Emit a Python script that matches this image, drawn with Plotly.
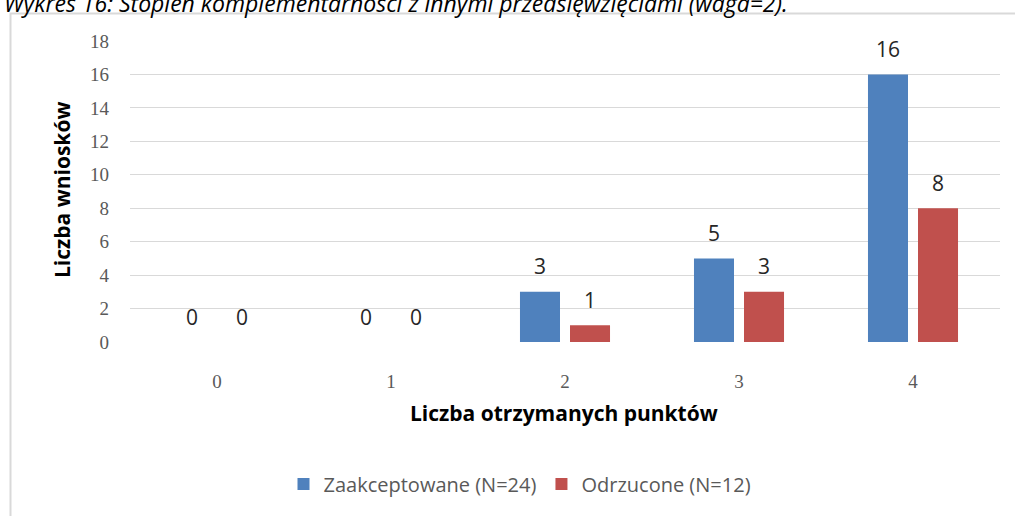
import plotly.graph_objects as go

categories = ["0", "1", "2", "3", "4"]
accepted = [0, 0, 3, 5, 16]
rejected = [0, 0, 1, 3, 8]
accepted_name = "Zaakceptowane (N=24)"
rejected_name = "Odrzucone (N=12)"
y_ticks = [0, 2, 4, 6, 8, 10, 12, 14, 16, 18]

W, H = 1015, 516
L, R, T, B = 130, 15, 41, 174
pw, ph = W - L - R, H - T - B

def px_x(x):
    return (x - L) / pw

def px_y(y):
    return (H - B - y) / ph

BLUE, RED = "#4f81bd", "#c0504d"
label_font = dict(family="Open Sans", size=21, color="#262626")

fig = go.Figure()
for vals, name, col in [(accepted, accepted_name, BLUE), (rejected, rejected_name, RED)]:
    fig.add_trace(go.Bar(
        x=categories, y=vals, name=name, offsetgroup=name, alignmentgroup="g",
        marker=dict(color=col, line=dict(width=0)),
    ))
for vals, name in [(accepted, accepted_name), (rejected, rejected_name)]:
    fig.add_trace(go.Scatter(
        x=categories, y=vals, mode="markers+text", offsetgroup=name, alignmentgroup="g",
        text=[str(v) for v in vals], textposition="top center",
        marker=dict(size=18, opacity=0), textfont=label_font,
        showlegend=False, hoverinfo="skip", cliponaxis=False,
    ))

fig.update_layout(
    width=W, height=H,
    margin=dict(l=L, r=R, t=T, b=B, autoexpand=False),
    paper_bgcolor="white", plot_bgcolor="white",
    barmode="group", bargap=0.425, bargroupgap=0.2,
    scattermode="group", scattergap=0.425,
    showlegend=True,
    legend=dict(orientation="h", x=px_x(520), xanchor="center",
                y=px_y(484), yanchor="middle",
                font=dict(family="Open Sans", size=20, color="#595959"),
                itemwidth=30, traceorder="normal"),
    xaxis=dict(type="category", showgrid=False, showline=False, zeroline=False,
               tickfont=dict(family="Liberation Serif", size=19, color="#595959"),
               ticks="", ticklabelstandoff=26),
    yaxis=dict(range=[0, 18], tickvals=y_ticks, showgrid=True,
               gridcolor="#d9d9d9", gridwidth=1, zeroline=False, showline=False,
               tickfont=dict(family="Liberation Serif", size=19, color="#595959"),
               ticks="", ticklabelstandoff=20),
    annotations=[
        dict(text="Liczba otrzymanych punktów", xref="paper", yref="paper",
             x=px_x(564), y=px_y(413), xanchor="center", yanchor="middle",
             showarrow=False, font=dict(family="Open Sans", size=21, color="#000000", weight="bold")),
        dict(text="Liczba wniosków", xref="paper", yref="paper",
             x=px_x(62), y=px_y(190), xanchor="center", yanchor="middle", textangle=-90,
             showarrow=False, font=dict(family="Open Sans", size=21, color="#000000", weight="bold")),
        dict(text="<i>Wykres 16: Stopień komplementarności z innymi przedsięwzięciami (waga=2).</i>",
             xref="paper", yref="paper", x=px_x(2), y=px_y(21), xanchor="left", yanchor="bottom",
             showarrow=False, font=dict(family="Open Sans", size=23, color="#000000")),
    ],
    shapes=[
        dict(type="rect", xref="paper", yref="paper",
             x0=px_x(10.5), x1=px_x(1030), y0=px_y(13.5), y1=px_y(530),
             line=dict(color="#d9d9d9", width=2), fillcolor="rgba(0,0,0,0)", layer="below"),
    ],
)

fig.write_html("out.html", config={"displayModeBar": False},
               post_script="document.body.style.margin='0';")
